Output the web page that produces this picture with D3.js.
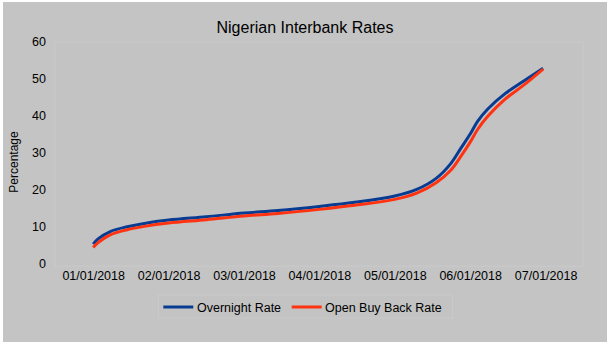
<!DOCTYPE html>
<html>
<head>
<meta charset="utf-8">
<script src="https://cdn.jsdelivr.net/npm/d3@7"></script>
<style>
  html, body { margin: 0; padding: 0; background: #ffffff; }
  svg { display: block; font-family: "Liberation Sans", Arial, sans-serif; }
</style>
</head>
<body>
<svg id="chart" width="613" height="345"></svg>
<script>
// ---- data ----
const dates = ["2018-01-01","2018-01-03","2018-01-08","2018-01-15","2018-01-22",
  "2018-02-01","2018-02-15","2018-03-01","2018-03-15","2018-04-01","2018-04-15",
  "2018-05-01","2018-05-10","2018-05-18","2018-05-24","2018-05-28",
  "2018-06-01","2018-06-04","2018-06-08","2018-06-15","2018-06-22","2018-06-30"];
const overnightRate = [5.2, 6.6, 8.6, 9.9, 10.8,
  11.7, 12.6, 13.6, 14.3, 15.4, 16.5,
  18.2, 20.0, 23.0, 27.0, 31.0,
  35.0, 38.5, 41.8, 46.0, 49.2, 52.8];
const openBuyBackRate = [4.3, 5.6, 7.7, 9.1, 10.0,
  10.9, 11.8, 12.8, 13.5, 14.6, 15.7,
  17.3, 19.0, 21.8, 25.2, 28.8,
  32.8, 36.3, 39.8, 44.5, 48.1, 52.6];
const xTickLabels = ["01/01/2018","02/01/2018","03/01/2018","04/01/2018","05/01/2018","06/01/2018","07/01/2018"];
const yTickValues = [0, 10, 20, 30, 40, 50, 60];
const seriesNames = ["Overnight Rate", "Open Buy Back Rate"];
const seriesColors = ["#073c92", "#ff3311"];

// ---- helpers ----
const parse = d3.timeParse("%Y-%m-%d");
// Excel-style month-based date axis: each month equal width, days proportional within month
function monthPos(str) {
  const d = parse(str);
  const m = d.getMonth() + (d.getFullYear() - 2018) * 12;
  const dim = new Date(d.getFullYear(), d.getMonth() + 1, 0).getDate();
  return m + (d.getDate() - 1) / dim;
}

const svg = d3.select("#chart");

// outer background
svg.append("rect").attr("x", 3).attr("y", 2).attr("width", 604).attr("height", 340)
  .attr("fill", "#c4c4c4");

// plot area
const plot = { left: 55, top: 42, right: 583, bottom: 266 };
svg.append("rect").attr("x", plot.left).attr("y", plot.top)
  .attr("width", plot.right - plot.left).attr("height", plot.bottom - plot.top)
  .attr("fill", "#c3c3c3").attr("stroke", "#c9c9c9").attr("stroke-width", 1);

const x = d3.scaleLinear().domain([0, 6]).range([93.2, 545.6]);
const y = d3.scaleLinear().domain([0, 60]).range([263.3, 41.7]);

// title
svg.append("text").attr("x", 305).attr("y", 33).attr("text-anchor", "middle")
  .attr("font-size", 16).attr("fill", "#000").text("Nigerian Interbank Rates");

// y axis
const yAxis = svg.append("g").attr("transform", "translate(50,0)")
  .call(d3.axisLeft(y).tickValues(yTickValues).tickSize(0).tickPadding(4).tickFormat(d3.format("d")));
yAxis.select(".domain").remove();
yAxis.selectAll("text").attr("font-size", 12.5).attr("fill", "#000")
  .attr("font-family", "'Liberation Sans', Arial, sans-serif");

// x axis
const xAxis = svg.append("g").attr("transform", "translate(0,271)")
  .call(d3.axisBottom(x).tickValues(d3.range(xTickLabels.length)).tickSize(0).tickPadding(0)
    .tickFormat((d, i) => xTickLabels[i]));
xAxis.select(".domain").remove();
xAxis.selectAll("text").attr("font-size", 12.5).attr("fill", "#000")
  .attr("font-family", "'Liberation Sans', Arial, sans-serif");

// y axis title
svg.append("text").attr("transform", "translate(18,162) rotate(-90)")
  .attr("text-anchor", "middle").attr("font-size", 12).attr("fill", "#000").text("Percentage");

// lines
const xs = dates.map(monthPos);
const line = d3.line().x(d => x(d[0])).y(d => y(d[1])).curve(d3.curveCatmullRom.alpha(0.5));
[overnightRate, openBuyBackRate].forEach((vals, i) => {
  svg.append("path").datum(xs.map((xv, j) => [xv, vals[j]]))
    .attr("d", line).attr("fill", "none")
    .attr("stroke", seriesColors[i]).attr("stroke-width", 3).attr("stroke-linejoin", "round");
});

// legend
svg.append("rect").attr("x", 158.5).attr("y", 295).attr("width", 294).attr("height", 23)
  .attr("fill", "#c3c3c3").attr("stroke", "#c9c9c9").attr("stroke-width", 1);
const legendItems = [
  { lx1: 163.3, lx2: 193.3, tx: 197 },
  { lx1: 291.7, lx2: 321.7, tx: 325 }
];
legendItems.forEach((it, i) => {
  svg.append("line").attr("x1", it.lx1).attr("x2", it.lx2).attr("y1", 307).attr("y2", 307)
    .attr("stroke", seriesColors[i]).attr("stroke-width", 3);
  svg.append("text").attr("x", it.tx).attr("y", 311.5).attr("font-size", 12.5).attr("fill", "#000")
    .text(seriesNames[i]);
});
</script>
</body>
</html>
